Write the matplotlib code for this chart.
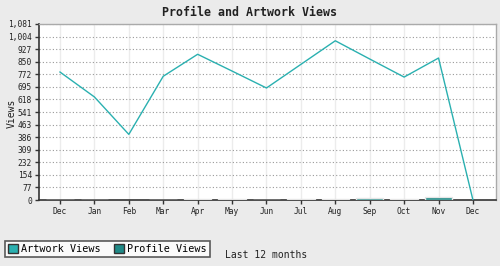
import matplotlib
matplotlib.use("Agg")
import matplotlib.pyplot as plt
import numpy as np
from matplotlib.patches import Patch

months = ["Dec", "Jan", "Feb", "Mar", "Apr", "May", "Jun", "Jul", "Aug", "Sep", "Oct", "Nov", "Dec"]
artwork_views = [786, 633, 403, 760, 895, 792, 688, 833, 978, 866, 755, 872, 0]
profile_views = [0, 0, np.nan, 0, 6, 6, 0, 6, 6, 12, 6, 18, np.nan]
y_tick_labels = ["0", "77", "154", "232", "309", "386", "463", "541", "618", "695",
                 "772", "850", "927", "1,004", "1,081"]

plt.rcParams['font.family'] = ['DejaVu Sans Mono']

fig = plt.figure(figsize=(5.0, 2.66), dpi=100, facecolor="#ebebeb")
ax = fig.add_axes([39/500, 66/266, 457/500, 176/266])
ax.set_facecolor("white")

x = np.arange(len(months))
line_color = "#2ab0b0"
bar_color = "#1f8a87"

ax.bar(x, profile_views, width=0.8, color=bar_color, edgecolor="#e6e6e6", linewidth=1, zorder=3)
ax.plot(x, artwork_views, color=line_color, linewidth=1, zorder=4)

ax.set_xlim(-0.61, 12.67)
ax.set_ylim(0, 1081)
ax.set_yticks([v * 1081 / 14 for v in range(15)])
ax.set_yticklabels(y_tick_labels, fontsize=5.7, color="#222")
ax.set_xticks(x)
ax.set_xticklabels(months, fontsize=5.7, color="#222")

ax.grid(axis="y", linestyle=(0, (1, 2)), color="#999", linewidth=0.8, zorder=1)
ax.grid(axis="x", linestyle="-", color="#ececec", linewidth=1, zorder=1)
ax.tick_params(axis="both", length=3, width=1, color="#333", pad=2)

for s in ["left", "bottom"]:
    ax.spines[s].set_color("#333")
    ax.spines[s].set_linewidth(1.2)
for s in ["top", "right"]:
    ax.spines[s].set_color("#aaa")
    ax.spines[s].set_linewidth(1)

fig.text(12/500, 1 - 113/266, "Views", fontsize=7, rotation=90,
         ha="center", va="center", color="#222")

fig.text(249/500, 1 - 12/266, "Profile and Artwork Views", fontsize=8.4, fontweight="bold",
         ha="center", va="center", color="#222")
fig.text(225/500, 1 - 255/266, "Last 12 months", fontsize=7, ha="left", va="center", color="#222")

handles = [Patch(facecolor=line_color, edgecolor="#333", linewidth=1, label="Artwork Views"),
           Patch(facecolor=bar_color, edgecolor="#333", linewidth=1, label="Profile Views")]
leg = fig.legend(handles=handles, loc="lower left", bbox_to_anchor=(5/500, 9/266), ncol=2,
                 fontsize=7.3, frameon=True, fancybox=False, edgecolor="#333",
                 handlelength=1.0, handleheight=1.0, handletextpad=0.3, columnspacing=1.3,
                 borderpad=0.3, borderaxespad=0)
leg.get_frame().set_linewidth(1.2)
leg.get_frame().set_facecolor("white")

fig.savefig("out.png", dpi=100, facecolor=fig.get_facecolor())
